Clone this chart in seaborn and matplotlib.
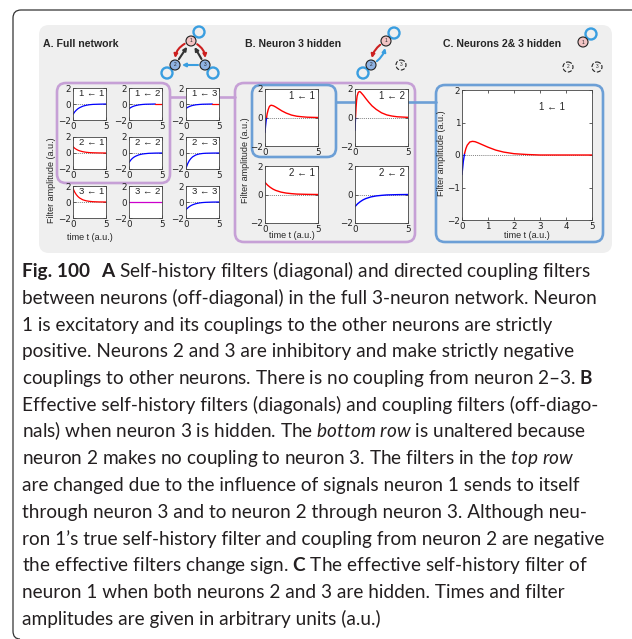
import matplotlib
matplotlib.use("Agg")
import matplotlib.pyplot as plt
from matplotlib.patches import Circle, FancyBboxPatch, PathPatch
from matplotlib.path import Path
import seaborn as sns

# ---- data ----
t_full = [0, 0.25, 0.5, 0.75, 1.0, 1.5, 2.0, 2.5, 3.0, 4.0, 5.0]
f11_full = [-1.3, -1.0, -0.77, -0.59, -0.46, -0.27, -0.16, -0.09, -0.05, -0.02, 0.0]
f12_full = [-0.6, -0.45, -0.34, -0.26, -0.2, -0.11, -0.06, -0.03, -0.02, 0.0, 0.0]
f13_full = [-0.55, -0.42, -0.32, -0.24, -0.18, -0.1, -0.06, -0.03, -0.02, 0.0, 0.0]
f21_full = [0.8, 0.6, 0.46, 0.35, 0.27, 0.16, 0.09, 0.05, 0.03, 0.01, 0.0]
f22_full = [-1.2, -0.9, -0.68, -0.52, -0.4, -0.23, -0.13, -0.08, -0.04, -0.01, 0.0]
f23_full = [-1.9, -1.35, -0.95, -0.68, -0.48, -0.24, -0.12, -0.06, -0.03, -0.01, 0.0]
f31_full = [1.7, 1.25, 0.92, 0.68, 0.5, 0.27, 0.15, 0.08, 0.04, 0.01, 0.0]
f32_full = [0.0, 0.0, 0.0, 0.0, 0.0, 0.0, 0.0, 0.0, 0.0, 0.0, 0.0]
f33_full = [-0.95, -0.75, -0.58, -0.45, -0.35, -0.21, -0.12, -0.07, -0.04, -0.01, 0.0]
labels_full = ["1←1", "1←2", "1←3", "2←1", "2←2", "2←3", "3←1", "3←2", "3←3"]

t_hid = [0, 0.05, 0.1, 0.15, 0.2, 0.3, 0.4, 0.5, 0.6, 0.8, 1.0, 1.3, 1.6, 2.0, 2.5, 3.0, 3.5, 4.0, 5.0]
f11_hid = [-1.05, -0.6, -0.25, 0.0, 0.25, 0.55, 0.75, 0.84, 0.86, 0.82, 0.74, 0.6, 0.46, 0.31, 0.17, 0.09, 0.05, 0.02, 0.0]
f12_hid = [-0.9, 0.0, 0.7, 1.2, 1.5, 1.75, 1.82, 1.8, 1.72, 1.55, 1.35, 1.07, 0.82, 0.57, 0.33, 0.18, 0.1, 0.05, 0.01]
f21_hid = [0.85, 0.65, 0.5, 0.38, 0.29, 0.17, 0.1, 0.06, 0.03, 0.01, 0.0]
f22_hid = [-0.85, -0.65, -0.5, -0.38, -0.29, -0.17, -0.1, -0.06, -0.03, -0.01, 0.0]
labels_hid = ["1←1", "1←2", "2←1", "2←2"]

f11_c = [-0.6, -0.2, 0.05, 0.2, 0.3, 0.4, 0.42, 0.41, 0.38, 0.31, 0.24, 0.15, 0.09, 0.04, 0.015, 0.0, 0.0, 0.0, 0.0]

fig_tag = "Fig. 100"
cap_lines = [
    r"$\mathbf{A}$ Self-history filters (diagonal) and directed coupling filters",
    "between neurons (off-diagonal) in the full 3-neuron network. Neuron",
    "1 is excitatory and its couplings to the other neurons are strictly",
    "positive. Neurons 2 and 3 are inhibitory and make strictly negative",
    r"couplings to other neurons. There is no coupling from neuron 2–3. $\mathbf{B}$",
    "Effective self-history filters (diagonals) and coupling filters (off-diago-",
    r"nals) when neuron 3 is hidden. The $\mathit{bottom\ row}$ is unaltered because",
    r"neuron 2 makes no coupling to neuron 3. The filters in the $\mathit{top\ row}$",
    "are changed due to the influence of signals neuron 1 sends to itself",
    "through neuron 3 and to neuron 2 through neuron 3. Although neu-",
    "ron 1’s true self-history filter and coupling from neuron 2 are negative",
    r"the effective filters change sign. $\mathbf{C}$ The effective self-history filter of",
    "neuron 1 when both neurons 2 and 3 are hidden. Times and filter",
    "amplitudes are given in arbitrary units (a.u.)",
]

sns.set_style("ticks")
plt.rcParams['font.family'] = ['Liberation Sans', 'DejaVu Sans']
plt.rcParams['mathtext.fontset'] = 'custom'
plt.rcParams['mathtext.rm'] = 'Lato'
plt.rcParams['mathtext.it'] = 'Lato:italic'
plt.rcParams['mathtext.bf'] = 'Lato:bold'

W, H = 632, 639
fig = plt.figure(figsize=(W / 100, H / 100), dpi=100)

bg = fig.add_axes([0, 0, 1, 1])
bg.set_xlim(0, W)
bg.set_ylim(H, 0)
bg.axis('off')

PURPLE = "#c6a0d6"
BLUE_BOX = "#6c9fd6"
LOOP = "#3a9ee0"


def px_axes(x, y, w, h):
    return fig.add_axes([x / W, 1 - (y + h) / H, w / W, h / H])


def draw_filter(ax, t, v, lw, color=None):
    if color is not None:
        sns.lineplot(x=t, y=v, color=color, lw=lw, ax=ax)
        return
    k = next((i for i, val in enumerate(v) if val >= 0), len(v))
    if k > 0:
        sns.lineplot(x=t[:k + 1], y=v[:k + 1], color='blue', lw=lw, ax=ax)
    if k < len(v):
        sns.lineplot(x=t[k:], y=v[k:], color='red', lw=lw, ax=ax)


def style_axes(ax, yticks, xticks):
    ax.set_facecolor('white')
    ax.set_xlim(0, 5)
    ax.set_ylim(-2, 2)
    ax.set_yticks(yticks)
    ax.set_xticks(xticks)
    ax.tick_params(direction='in', length=2.5, width=0.5, labelsize=6.3, pad=1.2,
                   top=True, right=True, colors='#222222')
    for lab in ax.get_xticklabels() + ax.get_yticklabels():
        lab.set_family('DejaVu Sans')
    for s in ax.spines.values():
        s.set_linewidth(0.6)
        s.set_color('#444444')
    ax.axhline(0, color='#555555', ls=(0, (1.5, 1.5)), lw=0.5, zorder=1)


# ---- outer frame and gray panel ----
frame = Path([(W, 10), (21, 10), (13, 10), (13, 18), (13, 631), (13, 639), (20, 639)],
             [Path.MOVETO, Path.LINETO, Path.CURVE3, Path.CURVE3, Path.LINETO, Path.CURVE3, Path.CURVE3])
bg.add_patch(PathPatch(frame, fc='none', ec='#333333', lw=0.9))
bg.add_patch(FancyBboxPatch((39, 25), 573, 228, boxstyle='round,pad=0,rounding_size=10',
                            fc='#efefef', ec='none', zorder=0))

# ---- highlight boxes ----
for (x0, y0, x1, y1, c) in [(57, 83, 170, 183, PURPLE), (235, 83, 415, 242, PURPLE),
                            (252, 85, 336, 157, BLUE_BOX), (436, 85, 603, 242, BLUE_BOX)]:
    bg.add_patch(FancyBboxPatch((x0, y0), x1 - x0, y1 - y0, boxstyle='round,pad=0,rounding_size=9',
                                fc='none', ec=c, lw=1.9, zorder=2))
bg.plot([170, 235], [97, 97], color=PURPLE, lw=1.9, zorder=2)
bg.plot([336, 436], [102, 102], color=BLUE_BOX, lw=1.9, zorder=2)

# ---- panel titles ----
bg.text(43, 47, "A. Full network", fontsize=7.6, weight='bold', va='baseline')
bg.text(245, 47, "B. Neuron 3 hidden", fontsize=7.6, weight='bold', va='baseline')
bg.text(443, 47, "C. Neurons 2& 3 hidden", fontsize=7.6, weight='bold', va='baseline')


# ---- network sketches ----
def node(x, y, num, fc, dashed=False):
    bg.add_patch(Circle((x, y), 5, fc=fc if not dashed else 'none',
                        ec='#222222', lw=0.8, ls='--' if dashed else '-', zorder=6))
    bg.text(x, y, num, fontsize=3.5, ha='center', va='center', zorder=7)


def loop(x, y):
    bg.add_patch(Circle((x, y), 5.5, fill=False, ec=LOOP, lw=1.7, zorder=4))


def edge(a, b, color, rad):
    bg.annotate('', xy=b, xytext=a, zorder=5,
                arrowprops=dict(arrowstyle='-|>', color=color, lw=1.5, mutation_scale=5,
                                shrinkA=5, shrinkB=5, connectionstyle=f'arc3,rad={rad}'))


n1, n2, n3 = (191, 41), (175, 65), (205, 65)
loop(199, 32); loop(167, 73); loop(213, 73)
edge(n1, n2, '#cc2020', 0.4)
edge(n1, n3, '#cc2020', -0.4)
edge(n2, n1, '#333333', 0.0)
edge(n3, n1, '#333333', 0.0)
edge(n3, n2, LOOP, 0.0)
node(*n1, "1", '#f2c4c4'); node(*n2, "2", '#8fb2e2'); node(*n3, "3", '#8fb2e2')

m1, m2, m3 = (386, 41), (371, 65), (401, 65)
loop(394, 33); loop(363, 73)
edge(m1, m2, '#cc2020', 0.3)
edge(m2, m1, LOOP, 0.3)
node(*m1, "1", '#f2c4c4'); node(*m2, "2", '#8fb2e2'); node(*m3, "3", 'none', dashed=True)

loop(591, 34)
node(583, 42, "1", '#f2c4c4')
node(568, 67, "2", 'none', dashed=True)
node(597, 67, "3", 'none', dashed=True)

# ---- panel A: full network ----
curves_full = [f11_full, f12_full, f13_full, f21_full, f22_full, f23_full, f31_full, f32_full, f33_full]
cols_a = [73, 129, 186]
rows_a = [88, 137, 186]
for i, (vals, lab) in enumerate(zip(curves_full, labels_full)):
    ax = px_axes(cols_a[i % 3], rows_a[i // 3], 33, 32)
    draw_filter(ax, t_full, vals, 0.9, color='#cc00cc' if lab == "3←2" else None)
    style_axes(ax, [-2, 0, 2], [0, 5])
    ax.text(0.56, 0.83, lab.replace("←", " ← "), transform=ax.transAxes, ha='center', va='center',
            fontsize=6.8, zorder=5)
bg.text(51, 180, "Filter amplitude (a.u.)", rotation=90, fontsize=6.5, ha='center', va='center')
bg.text(90, 237, "time t (a.u.)", fontsize=6.5, ha='center', va='center')

# ---- panel B: neuron 3 hidden ----
curves_hid = [(t_hid, f11_hid), (t_hid, f12_hid), (t_full, f21_hid), (t_full, f22_hid)]
cols_b = [265, 355]
rows_b = [89, 166]
for i, ((tt, vals), lab) in enumerate(zip(curves_hid, labels_hid)):
    ax = px_axes(cols_b[i % 2], rows_b[i // 2], 53, 57)
    draw_filter(ax, tt, vals, 1.0)
    style_axes(ax, [-2, 0, 2], [0, 5])
    ax.text(0.7, 0.87, lab.replace("←", " ← "), transform=ax.transAxes, ha='center', va='center',
            fontsize=7, zorder=5)
bg.text(245, 160, "Filter amplitude (a.u.)", rotation=90, fontsize=6.5, ha='center', va='center')
bg.text(292, 235, "time t (a.u.)", fontsize=6.5, ha='center', va='center')

# ---- panel C: neurons 2 & 3 hidden ----
ax = px_axes(462, 90, 130, 130)
draw_filter(ax, t_hid, f11_c, 1.0)
style_axes(ax, [-2, -1, 0, 1, 2], [0, 1, 2, 3, 4, 5])
ax.text(0.69, 0.87, "1 ← 1", transform=ax.transAxes, ha='center', va='center', fontsize=7)
bg.text(442, 153, "Filter amplitude (a.u.)", rotation=90, fontsize=6.5, ha='center', va='center')
bg.text(527, 235, "time t (a.u.)", fontsize=6.5, ha='center', va='center')

# ---- caption ----
renderer = fig.canvas.get_renderer()
probe = bg.text(0, 0, cap_lines[10], fontsize=10, family='Lato')
cap_size = 10 * 585 / probe.get_window_extent(renderer).width
probe.remove()
tag = bg.text(22, 277, fig_tag, fontsize=cap_size, family='Lato', weight='bold', va='baseline',
              color='#231f20')
x_first = 22 + tag.get_window_extent(renderer).width + 0.8 * cap_size
for i, line in enumerate(cap_lines):
    bg.text(x_first if i == 0 else 22, 277 + i * 26.77, line, fontsize=cap_size, family='Lato',
            va='baseline', color='#231f20')

fig.savefig("out.png", dpi=100)
